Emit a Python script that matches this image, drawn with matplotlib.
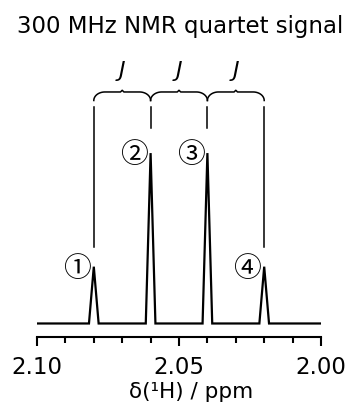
import numpy as np
import matplotlib.pyplot as plt
from matplotlib.ticker import MultipleLocator

# Dados do quarteto (deslocamento em ppm e intensidade relativa)
peak_ppm = [2.08, 2.06, 2.04, 2.02]
peak_int = [1, 3, 3, 1]
peak_labels = ['①', '②', '③', '④']
x_range = [2.10, 2.00]
major_ticks = [2.10, 2.05, 2.00]
tick_labels = ['2.10', '2.05', '2.00']

half_width = 0.0017

# Construir o espectro: linha de base com picos triangulares
xs = [x_range[0]]
ys = [0]
for p, h in zip(peak_ppm, peak_int):
    xs += [p + half_width, p, p - half_width]
    ys += [0, h, 0]
xs.append(x_range[1])
ys.append(0)

fig = plt.figure(figsize=(3.6, 4.11), dpi=100)
ax = fig.add_axes([37 / 360, 74 / 411, 284 / 360, 287 / 411])

ax.plot(xs, ys, color='black', lw=1.6, solid_joinstyle='miter')
ax.set_xlim(x_range[0], x_range[1])
ax.set_ylim(-0.238, 4.815)

for s in ['left', 'right', 'top']:
    ax.spines[s].set_visible(False)
ax.spines['bottom'].set_linewidth(1.5)
ax.set_yticks([])
ax.set_xticks(major_ticks)
ax.set_xticklabels(tick_labels, fontsize=16.5)
ax.xaxis.set_minor_locator(MultipleLocator(0.01))
ax.tick_params(axis='x', which='major', length=6.5, width=1.5, pad=7.5)
ax.tick_params(axis='x', which='minor', length=4.3, width=1.5)

# Numeros circulados ao lado de cada pico
for p, h, lab in zip(peak_ppm, peak_int, peak_labels):
    ax.annotate(lab, xy=(p, h), xytext=(-12.2, -1.5), textcoords='offset points',
                ha='center', va='center', fontsize=20,
                family=['Noto Sans CJK JP', 'DejaVu Sans'])

# Arvore de acoplamento
y_top_line = 3.81
y_outer_bot = 1.347
y_inner_bot = 3.44
for i, p in enumerate(peak_ppm):
    bot = y_outer_bot if i in (0, len(peak_ppm) - 1) else y_inner_bot
    ax.plot([p, p], [bot, y_top_line], color='black', lw=1.1)

y_end = 3.926
y_brace = 4.076
rx = 0.0039
bump = 0.03
t = np.linspace(0, np.pi / 2, 20)
for a, b in zip(peak_ppm[:-1], peak_ppm[1:]):
    mid = (a + b) / 2
    left_x = a - rx * (1 - np.cos(t))
    left_y = y_end + (y_brace - y_end) * np.sin(t)
    right_x = b + rx * (1 - np.cos(t))
    right_y = y_end + (y_brace - y_end) * np.sin(t)
    bx = np.concatenate([left_x, [mid + 0.0006, mid, mid - 0.0006], right_x[::-1]])
    by = np.concatenate([left_y, [y_brace, y_brace + bump, y_brace], right_y[::-1]])
    ax.plot(bx, by, color='black', lw=1.1)
    ax.text(mid, 4.454, 'J', ha='center', va='center', fontsize=16, style='italic')

fig.text(0.5, 1 - 27 / 411, '300 MHz NMR quartet signal', ha='center', va='center', fontsize=16.5)
fig.text(191 / 360, 1 - 392 / 411, 'δ(¹H) / ppm', ha='center', va='center', fontsize=15.5)

fig.savefig('out.png', dpi=100)
